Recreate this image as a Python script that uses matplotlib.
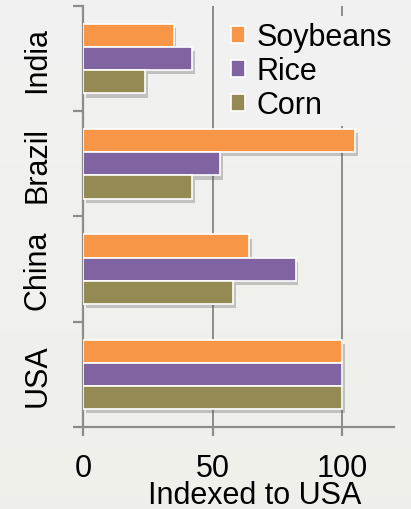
import numpy as np
import matplotlib
matplotlib.use("Agg")
import matplotlib.pyplot as plt
from matplotlib import patheffects as pe

countries = ["USA", "China", "Brazil", "India"]
soybeans = [100, 64, 105, 35]
rice = [100, 82, 53, 42]
corn = [100, 58, 42, 24]
series_names = ["Soybeans", "Rice", "Corn"]
series_colors = ["#F79646", "#8064A2", "#948A54"]
x_ticks = [0, 50, 100]

plt.rcParams["font.family"] = ["Liberation Sans", "DejaVu Sans"]

fig = plt.figure(figsize=(4.11, 5.10), dpi=100)

# soft vertical gradient behind everything
bg = fig.add_axes([0, 0, 1, 1], zorder=-10)
grad = np.linspace(0, 1, 256).reshape(-1, 1)
top = np.array([0.949, 0.949, 0.949])
bot = np.array([0.937, 0.941, 0.918])
img = top[None, None, :] * (1 - grad[:, :, None]) + bot[None, None, :] * grad[:, :, None]
bg.imshow(img, aspect="auto", extent=[0, 1, 0, 1])
bg.axis("off")

ax = fig.add_axes([0.202, 0.1608, 0.7566, 0.8255])
ax.patch.set_alpha(0)

centers = np.arange(len(countries)) + 0.5
h = 0.22
offsets = [h, 0, -h]
shadow = [pe.SimplePatchShadow(offset=(2, -3), shadow_rgbFace="#555555", alpha=0.3), pe.Normal()]
for vals, name, col, off in zip([soybeans, rice, corn], series_names, series_colors, offsets):
    bars = ax.barh(centers + off, vals, height=h, color=col, edgecolor="white",
                   linewidth=1.2, label=name, zorder=3)
    for b in bars:
        b.set_path_effects(shadow)

ax.set_xlim(0, 120)
ax.set_ylim(0, len(countries))
grid_col = "#8c8c8c"
for xv in x_ticks[1:]:
    ax.axvline(xv, color=grid_col, lw=1.4, zorder=1)

for s in ["top", "right"]:
    ax.spines[s].set_visible(False)
for s in ["left", "bottom"]:
    ax.spines[s].set_color(grid_col)
    ax.spines[s].set_linewidth(1.6)

ax.set_xticks(x_ticks)
ax.set_xticklabels([str(v) for v in x_ticks], fontsize=22)
ax.tick_params(axis="x", direction="out", length=6.5, width=1.6, color=grid_col, pad=12)

ax.set_yticks(np.arange(len(countries) + 1))
ax.set_yticklabels([])
ax.tick_params(axis="y", which="major", direction="out", length=7.5, width=1.6, color=grid_col)
ax.set_yticks(centers, minor=True)
ax.set_yticklabels(countries, minor=True, rotation=90, va="center", fontsize=22)
ax.tick_params(axis="y", which="minor", length=0, pad=22)

ax.text(0.553, -0.1805, "Indexed to USA", transform=ax.transAxes, ha="center",
        va="baseline", fontsize=22)

leg = ax.legend(loc="upper right", bbox_to_anchor=(1.062, 1.012), fontsize=22,
                frameon=True, facecolor="#f1f1f1", edgecolor="none", framealpha=1,
                handlelength=0.46, handleheight=0.46, handletextpad=0.36,
                labelspacing=0.13, borderpad=0.2, fancybox=False)
leg.set_zorder(2)
for hnd in leg.legend_handles:
    hnd.set_path_effects([])

fig.savefig("out.png", dpi=100)
